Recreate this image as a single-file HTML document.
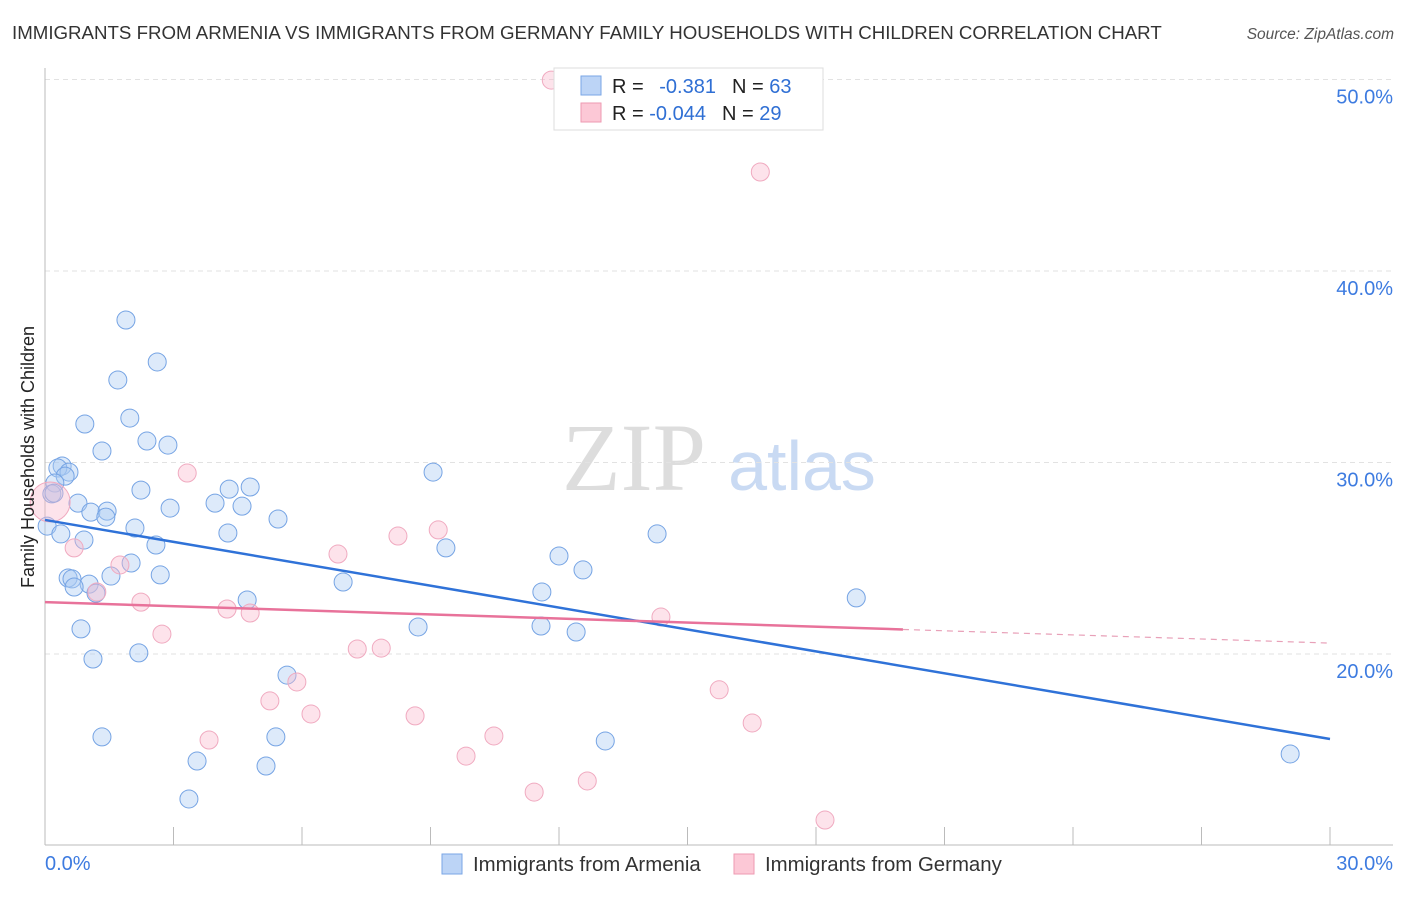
<!DOCTYPE html>
<html><head><meta charset="utf-8"><style>
body{margin:0;background:#fff;font-family:"Liberation Sans",sans-serif}
</style></head><body>
<svg width="1406" height="892" xmlns="http://www.w3.org/2000/svg" style="font-family:'Liberation Sans',sans-serif">
<text x="12" y="39" font-size="18.7" fill="#333">IMMIGRANTS FROM ARMENIA VS IMMIGRANTS FROM GERMANY FAMILY HOUSEHOLDS WITH CHILDREN CORRELATION CHART</text>
<text x="1394" y="39" font-size="15.5" fill="#555" font-style="italic" text-anchor="end">Source: ZipAtlas.com</text>
<g>
<text x="634" y="490" font-size="96" fill="#ddd" font-family="'Liberation Serif',serif" text-anchor="middle">ZIP</text>
<text x="802" y="490" font-size="70" fill="#c9daf3" text-anchor="middle">atlas</text>
</g>
<g id="grid"></g>
<g id="axes"></g>
<g id="pts"></g>
<g id="lines"></g>
<text transform="translate(34,457) rotate(-90)" font-size="18" fill="#222" text-anchor="middle">Family Households with Children</text>
<g>
<rect x="554" y="68" width="269" height="62" fill="#fff" stroke="#ddd"/>
<rect x="581" y="76" width="20" height="19" fill="#bcd4f6" stroke="#7aa6e6"/>
<rect x="581" y="103" width="20" height="19" fill="#fcc8d6" stroke="#ee9ab2"/>
<text x="612" y="93" font-size="20" fill="#222">R = <tspan fill="#2f6fd4" dx="10">-0.381</tspan><tspan dx="16" fill="#222">N = </tspan><tspan fill="#2f6fd4">63</tspan></text>
<text x="612" y="120" font-size="20" fill="#222">R = <tspan fill="#2f6fd4">-0.044</tspan><tspan dx="16" fill="#222">N = </tspan><tspan fill="#2f6fd4">29</tspan></text>
</g>
<g>
<rect x="442" y="854" width="20" height="20" fill="#bcd4f6" stroke="#7aa6e6"/>
<text x="473" y="871" font-size="20.4" fill="#333">Immigrants from Armenia</text>
<rect x="734" y="854" width="20" height="20" fill="#fcc8d6" stroke="#ee9ab2"/>
<text x="765" y="871" font-size="20.4" fill="#333">Immigrants from Germany</text>
</g>
</svg>
<script>
const blueX=[1.89,2.62,1.70,1.98,0.93,2.38,2.87,1.33,0.40,0.30,0.56,0.47,9.06,0.23,0.16,2.24,4.30,4.79,0.77,3.97,4.60,2.92,1.07,1.45,1.42,5.44,0.05,2.10,4.27,0.37,14.29,0.91,2.59,9.36,12.00,2.01,12.56,2.69,1.54,0.54,0.63,6.96,1.03,0.68,1.19,11.60,4.72,18.94,0.84,8.71,11.58,12.40,2.19,1.12,5.65,1.33,5.39,13.08,3.55,5.16,29.07,3.36,0.21];
const blueY=[37.44,35.25,34.31,32.32,32.01,31.12,30.91,30.60,29.82,29.71,29.50,29.29,29.50,28.93,28.36,28.56,28.61,28.72,27.88,27.88,27.72,27.62,27.41,27.46,27.15,27.05,26.68,26.58,26.32,26.27,26.27,25.95,25.69,25.54,25.12,24.75,24.39,24.13,24.07,23.97,23.92,23.76,23.65,23.50,23.18,23.24,22.82,22.93,21.31,21.41,21.46,21.15,20.06,19.74,18.90,15.67,15.67,15.46,14.41,14.15,14.78,12.43,28.4];
const pinkX=[11.82,16.70,0.12,3.32,0.68,9.18,8.24,6.84,1.75,1.21,2.24,4.25,4.79,14.38,2.73,7.29,7.85,5.88,15.74,5.25,6.21,8.64,16.51,3.83,10.48,9.83,12.66,11.42,18.21];
const pinkY=[49.97,45.17,27.94,29.45,25.54,26.48,26.16,25.22,24.65,23.24,22.71,22.35,22.14,21.93,21.04,20.26,20.31,18.54,18.13,17.55,16.87,16.77,16.40,15.51,15.72,14.67,13.37,12.79,11.33];
const yTicks=[20,30,40,50];
const yTickLabels=["20.0%","30.0%","40.0%","50.0%"];
const blueTrend=[27.0,15.56];
const pinkTrend=[22.71,20.57];
const pinkSolidEnd=20.03;
const NS="http://www.w3.org/2000/svg";
const X=v=>45+v/30*1285;
const Y=v=>79.5+(50-v)*19.15;
function mk(tag,at,parent){const e=document.createElementNS(NS,tag);for(const k in at)e.setAttribute(k,at[k]);document.getElementById(parent).appendChild(e);return e;}
yTicks.forEach((t,i)=>{
 const g=mk('line',{x1:45,x2:1393,y1:Y(t),y2:Y(t),stroke:'#e2e2e2','stroke-dasharray':'5,4'},'grid');
 
 
 const l=mk('text',{x:1393,y:Y(t)+24,'font-size':20,fill:'#3d7be0','text-anchor':'end'},'grid');
 l.textContent=yTickLabels[i];
 
 
});
let ax=mk('line',{x1:45,x2:45,y1:68,y2:845,stroke:'#bbb'},'axes');


ax=mk('line',{x1:45,x2:1393,y1:845,y2:845,stroke:'#bbb'},'axes');


for(let i=0;i<=10;i++){const t=mk('line',{x1:X(i*3),x2:X(i*3),y1:827,y2:845,stroke:'#bbb'},'axes');
 
 }
[["0.0%",45,"start"],["30.0%",1393,"end"]].forEach(a=>{const t=mk('text',{x:a[1],y:870,'font-size':20,fill:'#3d7be0','text-anchor':a[2]},'axes');t.textContent=a[0];
 
 });
blueX.forEach((v,i)=>{const c=mk('circle',{cx:X(v),cy:Y(blueY[i]),r:9,fill:'rgba(170,202,242,0.4)',stroke:'#76a4e4','stroke-width':1},'pts');
 
 });
pinkX.forEach((v,i)=>{const c=mk('circle',{cx:X(v),cy:Y(pinkY[i]),r:i==2?20:9,fill:'rgba(250,185,205,0.4)',stroke:'#f0aac0','stroke-width':1},'pts');
 
 });
let ln=mk('line',{x1:X(0),y1:Y(blueTrend[0]),x2:X(30),y2:Y(blueTrend[1]),stroke:'#2f72d8','stroke-width':2.5},'lines');


const py=x=>pinkTrend[0]+(pinkTrend[1]-pinkTrend[0])*x/30;
ln=mk('line',{x1:X(0),y1:Y(pinkTrend[0]),x2:X(pinkSolidEnd),y2:Y(py(pinkSolidEnd)),stroke:'#e8729a','stroke-width':2.5},'lines');


ln=mk('line',{x1:X(pinkSolidEnd),y1:Y(py(pinkSolidEnd)),x2:X(30),y2:Y(pinkTrend[1]),stroke:'#e8a0b8','stroke-width':1.2,'stroke-dasharray':'6,5'},'lines');


</script>
</body></html>
